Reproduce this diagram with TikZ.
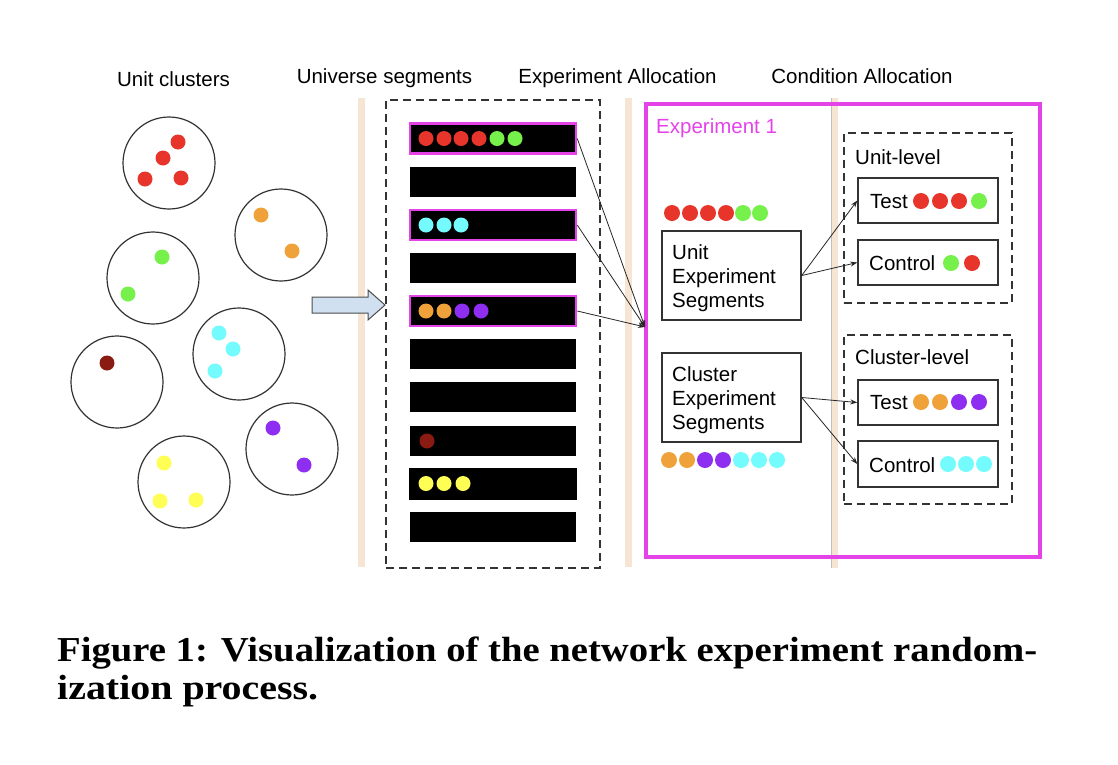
\documentclass[tikz,border=0pt]{standalone}
\usepackage{fontspec}
\usepackage{graphicx}
\setmainfont{Liberation Sans}
\newfontfamily\capfont{Liberation Serif}
\usetikzlibrary{arrows.meta}
\definecolor{cred}{HTML}{E8352B}
\definecolor{cgreen}{HTML}{76F04A}
\definecolor{corange}{HTML}{F0A23A}
\definecolor{ccyan}{HTML}{74FBFD}
\definecolor{cpurple}{HTML}{8D2EF0}
\definecolor{cdarkred}{HTML}{8A1B12}
\definecolor{cyellow}{HTML}{FEFE54}
\definecolor{cmag}{HTML}{E443E8}
\definecolor{cbeige}{HTML}{F6E5D3}
\definecolor{carrow}{HTML}{D0E0F0}
\definecolor{lgray}{HTML}{333333}
\newcommand\putdot[4]{\fill[#1] (#2,#3) circle[radius=#4];}
\tikzset{
  txt/.style={font=\fontsize{20.5}{24}\selectfont, inner sep=0pt},
  hdr/.style={txt, anchor=base},
  cluster/.style={circle, draw=lgray, line width=1.2pt, minimum size=92pt, inner sep=0pt},
  seg/.style={rectangle, fill=black, minimum width=166pt, minimum height=30pt, inner sep=0pt},
  hiseg/.style={seg, draw=cmag, line width=2.5pt},
  dashbox/.style={rectangle, draw=lgray, line width=1.8pt, dash pattern=on 8pt off 5pt, inner sep=0pt},
  sbox/.style={rectangle, draw=lgray, line width=1.5pt, inner sep=0pt},
  conn/.style={-{Stealth[length=7pt,width=5pt]}, line width=0.8pt, draw=black!85},
  beigebar/.style={fill=cbeige},
  captxt/.style={anchor=base west, inner sep=0pt, font=\capfont\bfseries\fontsize{35}{38}\selectfont}
}
\begin{document}
\begin{tikzpicture}[x=1pt,y=-1pt]
\useasboundingbox (0,0) rectangle (1118,764);

% headers
\node[hdr] (h1) at (173.5,86) {Unit clusters};
\node[hdr] (h2) at (384.5,83) {Universe segments};
\node[hdr] (h3) at (617.5,83) {Experiment Allocation};
\node[hdr] (h4) at (862,83) {Condition Allocation};

% beige bars
\fill[beigebar] (358,98) rectangle (365,567);
\fill[beigebar] (625,98) rectangle (632,567);
\fill[beigebar] (831,98) rectangle (838,568);
\draw[black!25, line width=0.6pt] (831,98) -- (831,568);

% clusters
\node[cluster] (c1) at (169,163) {};
\node[cluster] (c2) at (281,235) {};
\node[cluster] (c3) at (153,278) {};
\node[cluster] (c4) at (117,382) {};
\node[cluster] (c5) at (239,354) {};
\node[cluster] (c6) at (292,449) {};
\node[cluster] (c7) at (184,482) {};
\putdot{cred}{178}{142}{7.5}
\putdot{cred}{163}{158}{7.5}
\putdot{cred}{145}{179}{7.5}
\putdot{cred}{181}{178}{7.5}
\putdot{corange}{261}{215}{7.5}
\putdot{corange}{292}{251}{7.5}
\putdot{cgreen}{162}{257}{7.5}
\putdot{cgreen}{128}{294}{7.5}
\putdot{cdarkred}{107}{363}{7.5}
\putdot{ccyan}{219}{333}{7.5}
\putdot{ccyan}{233}{349}{7.5}
\putdot{ccyan}{215}{371}{7.5}
\putdot{cpurple}{273}{428}{7.5}
\putdot{cpurple}{304}{465}{7.5}
\putdot{cyellow}{164}{463}{7.5}
\putdot{cyellow}{160}{501}{7.5}
\putdot{cyellow}{196}{500}{7.5}

% block arrow
\filldraw[fill=carrow, draw=black!70, line width=1pt]
  (312,297) -- (368,297) -- (368,290) -- (385,305) -- (368,320) -- (368,313) -- (312,313) -- cycle;

% universe
\node[dashbox, minimum width=214pt, minimum height=468pt] (univ) at (493,334) {};
\node[hiseg] (s1) at (493,138.5) {};
\node[seg] (s2) at (493,181.5) {};
\node[hiseg] (s3) at (493,225) {};
\node[seg] (s4) at (493,267.5) {};
\node[hiseg] (s5) at (493,311) {};
\node[seg] (s6) at (493,354) {};
\node[seg] (s7) at (493,397) {};
\node[seg] (s8) at (493,441) {};
\node[seg, minimum width=168pt, minimum height=32pt] (s9) at (493,483.5) {};
\node[seg] (s10) at (493,527) {};
\foreach \x/\c in {426/cred,444/cred,461/cred,479/cred,497/cgreen,515/cgreen}{\putdot{\c}{\x}{138.5}{7.5}}
\foreach \x/\c in {426/ccyan,444/ccyan,461/ccyan}{\putdot{\c}{\x}{225}{7.5}}
\foreach \x/\c in {426/corange,444/corange,462/cpurple,481/cpurple}{\putdot{\c}{\x}{311}{7.5}}
\putdot{cdarkred}{427}{441}{7.5}
\foreach \x/\c in {426/cyellow,444/cyellow,463/cyellow}{\putdot{\c}{\x}{483.5}{7.5}}

% experiment box
\node[rectangle, draw=cmag, line width=3.2pt, minimum width=394pt, minimum height=453pt, inner sep=0pt] (exp) at (843,330.5) {};
\coordinate (conv) at (645,327);
\draw[conn] (s1.east) -- (conv);
\draw[conn] (s3.east) -- (conv);
\draw[conn] (s5.east) -- (conv);
\node[txt, anchor=base west, text=cmag] (e1) at (656,133) {Experiment 1};

% experiment segments
\foreach \x/\c in {672/cred,690/cred,708/cred,726/cred,743/cgreen,760/cgreen}{\putdot{\c}{\x}{213}{8}}
\node[sbox, minimum width=139pt, minimum height=89pt] (ub) at (731.5,275.5) {};
\node[txt, anchor=base west] (ubt1) at (672,259) {Unit};
\node[txt, anchor=base west] (ubt2) at (672,283) {Experiment};
\node[txt, anchor=base west] (ubt3) at (672,307) {Segments};
\node[sbox, minimum width=139pt, minimum height=89pt] (cb) at (731.5,397.5) {};
\node[txt, anchor=base west] (cbt1) at (672,381) {Cluster};
\node[txt, anchor=base west] (cbt2) at (672,405) {Experiment};
\node[txt, anchor=base west] (cbt3) at (672,429) {Segments};
\foreach \x/\c in {669/corange,687/corange,705/cpurple,723/cpurple,741/ccyan,759/ccyan,777/ccyan}{\putdot{\c}{\x}{460}{8}}

% unit-level
\node[dashbox, minimum width=168pt, minimum height=170pt] (ul) at (928,218) {};
\node[txt, anchor=base west] (ult) at (855,164) {Unit-level};
\node[sbox, minimum width=140pt, minimum height=45pt] (ut) at (928,200.5) {};
\node[txt, anchor=base west] (utt) at (870,208) {Test};
\foreach \x/\c in {921/cred,940/cred,959/cred,979/cgreen}{\putdot{\c}{\x}{201}{8}}
\node[sbox, minimum width=140pt, minimum height=45pt] (uc) at (928,262.5) {};
\node[txt, anchor=base west] (uct) at (869,270) {Control};
\foreach \x/\c in {951/cgreen,972/cred}{\putdot{\c}{\x}{263}{8}}

% cluster-level
\node[dashbox, minimum width=168pt, minimum height=169pt] (cl) at (928,419.5) {};
\node[txt, anchor=base west] (clt) at (855,364) {Cluster-level};
\node[sbox, minimum width=140pt, minimum height=45pt] (ct) at (928,402.5) {};
\node[txt, anchor=base west] (ctt) at (870,409) {Test};
\foreach \x/\c in {921/corange,940/corange,959/cpurple,979/cpurple}{\putdot{\c}{\x}{402}{8}}
\node[sbox, minimum width=140pt, minimum height=46pt] (cc) at (928,464) {};
\node[txt, anchor=base west] (cct) at (869,472) {Control};
\foreach \x/\c in {948/ccyan,966/ccyan,984/ccyan}{\putdot{\c}{\x}{464}{8}}

% condition arrows
\draw[conn] (ub.east) -- (ut.west);
\draw[conn] (ub.east) -- (uc.west);
\draw[conn] (cb.east) -- (ct.west);
\draw[conn] (cb.east) -- (cc.west);

% caption
\node[captxt] (cap1) at (57,661)
  {\resizebox{980pt}{\height}{Figure 1: Visualization of the network experiment random-}};
\node[captxt] (cap2) at (57,699)
  {\resizebox{261pt}{\height}{ization process.}};
\end{tikzpicture}
\end{document}
